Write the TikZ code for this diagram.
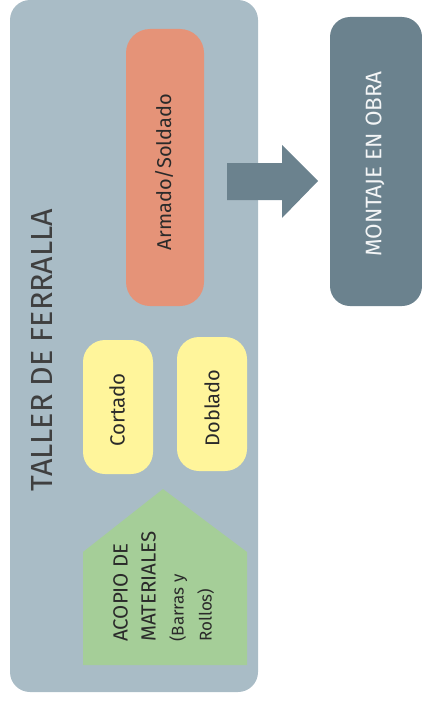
\documentclass[tikz,border=0pt]{standalone}
\usepackage{fontspec}
\setmainfont{Fira Sans}
\definecolor{tallerbg}{HTML}{A9BCC6}
\definecolor{montaje}{HTML}{6B828E}
\definecolor{armado}{HTML}{E59378}
\definecolor{amarillo}{HTML}{FFF59B}
\definecolor{verde}{HTML}{A5CE98}
\definecolor{texto}{HTML}{2A2A2A}
\begin{document}
\begin{tikzpicture}[x=1pt,y=-1pt,
  boxlabel/.style={rotate=90,text=texto,inner sep=0pt},
]
\useasboundingbox (0,0) rectangle (422,709);
% main container
\fill[tallerbg,rounded corners=20pt] (10,0) rectangle (258,692);
\node[boxlabel,font=\fontsize{30.5}{32}\selectfont,text=texto!90] (taller) at (42,350) {TALLER DE FERRALLA};
% armado
\fill[armado,rounded corners=24pt] (126,29) rectangle (204,306);
\node[boxlabel,font=\fontsize{20}{22}\selectfont] (armado) at (164,172) {Armado/Soldado};
% yellow boxes
\fill[amarillo,rounded corners=22pt] (83,340) rectangle (153,474);
\node[boxlabel,font=\fontsize{20.5}{22}\selectfont] (cortado) at (117,410) {Cortado};
\fill[amarillo,rounded corners=22pt] (177,337) rectangle (247,471);
\node[boxlabel,font=\fontsize{20}{22}\selectfont] (doblado) at (212,408) {Doblado};
% green pentagon
\fill[verde] (83,665) -- (83,552) -- (163,489) -- (247,552) -- (247,665) -- cycle;
\node[boxlabel,font=\fontsize{20.5}{28}\selectfont,anchor=north west,align=left] (acopio) at (113,642)
  {ACOPIO DE\\MATERIALES\\{\fontsize{17}{28}\selectfont (Barras y}\\{\fontsize{17}{28}\selectfont Rollos)}};
% arrow
\fill[montaje] (227,163) -- (282,163) -- (282,145) -- (318,181) -- (282,218) -- (282,200) -- (227,200) -- cycle;
% montaje
\fill[montaje,rounded corners=20pt] (330,17) rectangle (422,306);
\node[boxlabel,font=\fontsize{22.5}{24}\selectfont,text=white!92!montaje] (montajeT) at (375,164) {MONTAJE EN OBRA};
\end{tikzpicture}
\end{document}
